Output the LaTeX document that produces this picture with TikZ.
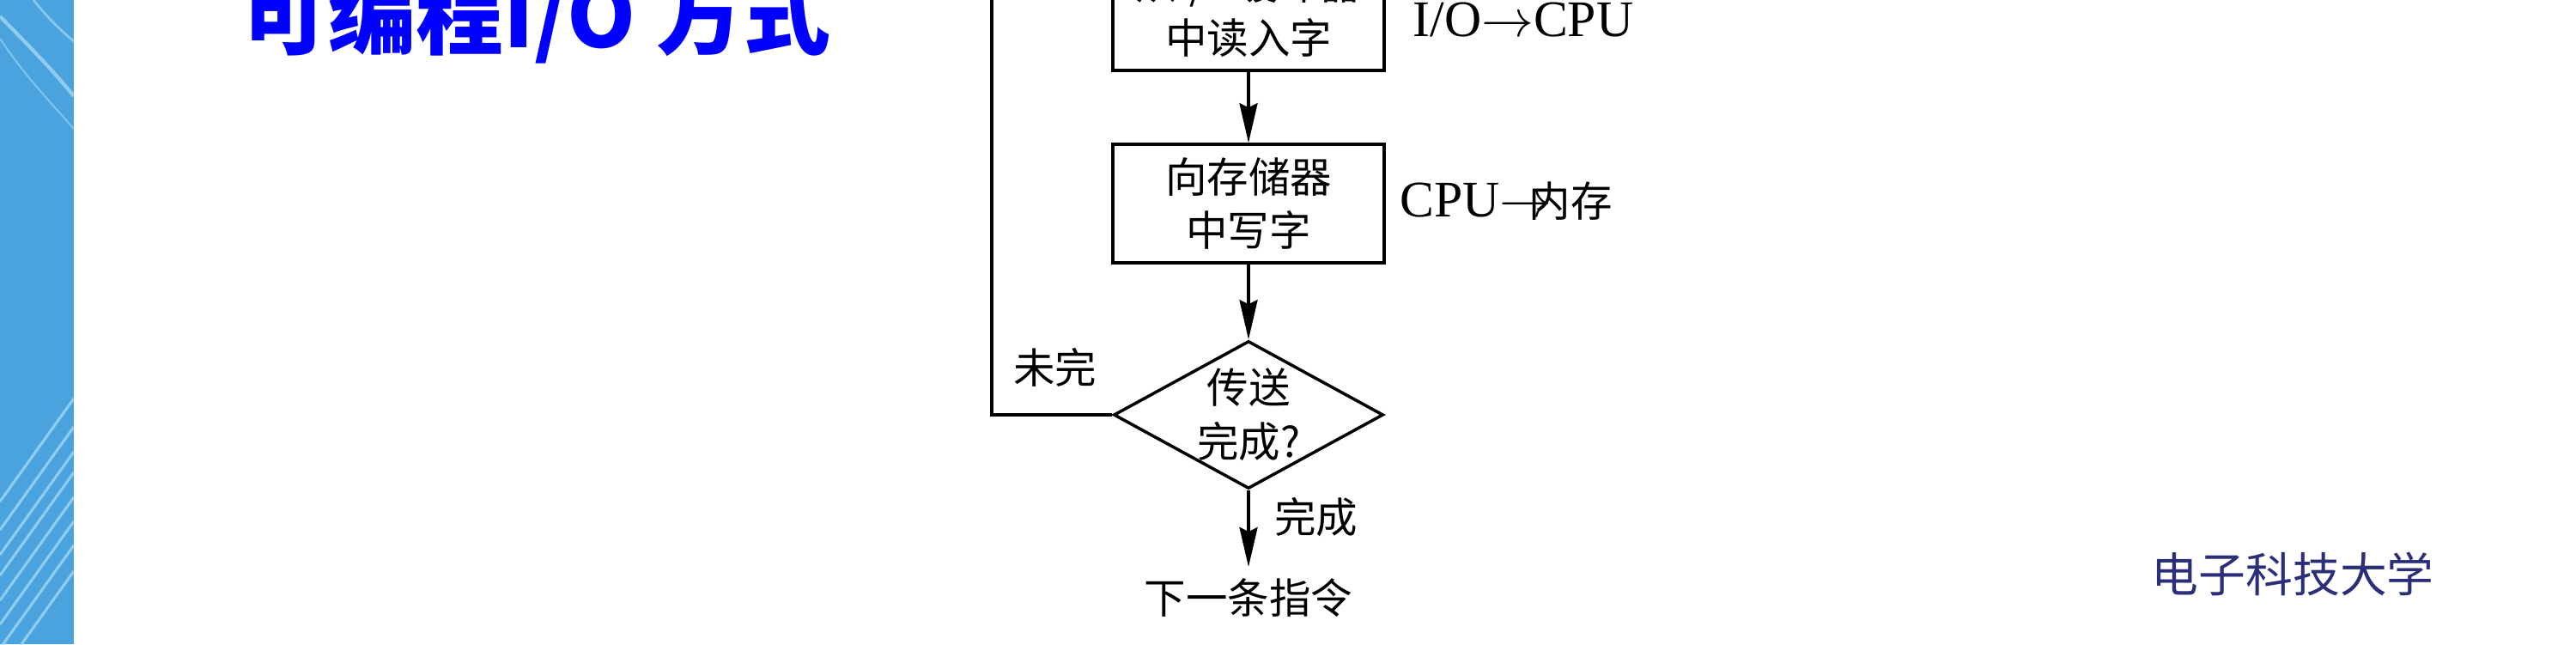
\documentclass[tikz,border=0pt]{standalone}
\usepackage{fontspec}
\setmainfont{Liberation Serif}
\newfontfamily\songti{Noto Sans CJK SC}
\newfontfamily\heiti{Noto Sans CJK SC}
\definecolor{titleblue}{HTML}{0000FF}
\definecolor{bandblue}{HTML}{4AA3DC}
\definecolor{bandlight}{HTML}{9FD8F5}
\definecolor{schoolnavy}{HTML}{2B2F78}
\usepackage{xcolor}
\usepackage{tikz}
\usetikzlibrary{arrows.meta, shapes.geometric}
\newcommand{\boxfont}{\songti\fontsize{13.8pt}{17.9pt}\selectfont}
\newcommand{\notefont}{\fontsize{17pt}{20pt}\selectfont}

\begin{document}
\begin{tikzpicture}[
    flow/.style={line width=1pt},
    arr/.style={flow, -{Stealth[length=4.6mm, width=2.1mm, inset=0.5mm]}},
    procbox/.style={draw, flow, rectangle, minimum width=3.16cm,
      minimum height=1.38cm, inner sep=0pt, align=center, font=\boxfont},
    decision/.style={draw, flow, diamond, aspect=1.82, minimum width=3.14cm,
      minimum height=1.72cm, inner sep=-0.04cm, align=center, font=\boxfont},
    tag/.style={inner sep=0pt, font=\boxfont}
  ]
  \useasboundingbox (0,0) rectangle (30,7.5);
  % Side band
  \fill[bandblue] (0,0) rectangle (0.86,7.5);
  \begin{scope}
    \clip (0,0) rectangle (0.86,7.5);
    \draw[bandlight, line width=1.2pt, opacity=0.8] (0,7.31) .. controls (0.35,6.95) and (0.6,6.7) .. (0.86,6.38);
    \draw[bandlight, line width=0.8pt, opacity=0.7] (0.39,7.5) .. controls (0.55,7.3) and (0.7,7.15) .. (0.86,7.02);
    \draw[bandlight, line width=0.6pt, opacity=0.6] (0,7.05) .. controls (0.3,6.6) and (0.6,6.3) .. (0.86,6.0);
    \foreach \y in {1.66,1.33,1.04,0.80,0.51,0.23,-0.05,-0.35}
      \draw[bandlight, line width=0.9pt, opacity=0.8] (0,\y) -- (0.86,\y+1.2);
  \end{scope}
  % Title
  \node[anchor=base west, inner sep=0pt, text=titleblue,
    font=\heiti\bfseries\fontsize{29pt}{31pt}\selectfont] (title) at (2.80,6.94) {可编程I/O 方式};
  % Flow chart
  \node[procbox] (rd) at (14.54,7.37) {从I/O缓冲器\\中读入字};
  \node[procbox] (wr) at (14.54,5.13) {向存储器\\中写字};
  \node[decision] (dec) at (14.54,2.67) {传送\\完成?};
  \node[tag, anchor=north, inner ysep=0.04cm, text height=0.5cm, text depth=0.1cm]
    (next) at (14.54,0.90) {下一条指令};
  \node[anchor=base west, inner sep=0pt, font=\notefont] (iocpu) at (16.45,7.07) {I/O$\rightarrow$CPU};
  \node[anchor=base west, inner sep=0pt, font=\notefont] (cpumem) at (16.30,4.97)
    {CPU$\rightarrow$\hspace{-0.45em}{\boxfont 内存}};
  \node[tag, anchor=base] (undone) at (12.285,3.04) {未完};
  \node[tag, anchor=base] (done) at (15.325,1.30) {完成};
  \coordinate (looptop) at (11.55,7.8);
  \draw[arr] (rd.south) -- (wr.north);
  \draw[arr] (wr.south) -- (dec.north);
  \draw[arr] (dec.south) -- (next.north);
  \draw[flow] (dec.west) -| (looptop);
  % School name
  \node[anchor=base west, inner sep=0pt, text=schoolnavy,
    font=\heiti\fontsize{15.6pt}{17pt}\selectfont] (school) at (25.05,0.61) {电子科技大学};
\end{tikzpicture}
\end{document}
